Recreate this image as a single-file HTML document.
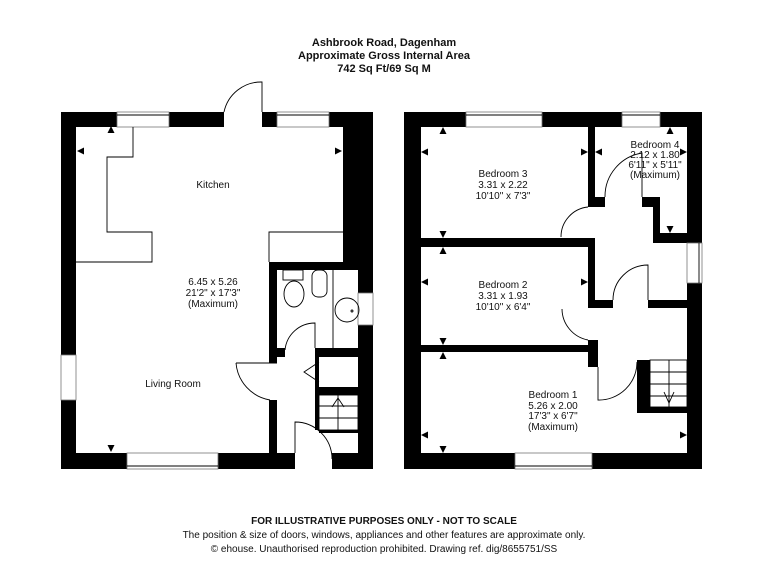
<!DOCTYPE html>
<html><head><style>
body{margin:0;background:#fff;}
svg{display:block;}
text{font-family:"Liberation Sans",sans-serif;fill:#111;}
</style></head><body>
<svg width="768" height="576" viewBox="0 0 768 576" xmlns="http://www.w3.org/2000/svg">
<g text-anchor="middle" font-weight="bold" font-size="11">
<text x="384" y="46">Ashbrook Road, Dagenham</text>
<text x="384" y="59">Approximate Gross Internal Area</text>
<text x="384" y="72">742 Sq Ft/69 Sq M</text>
</g>
<g text-anchor="middle" font-size="10">
<text x="384" y="524" font-weight="bold">FOR ILLUSTRATIVE PURPOSES ONLY - NOT TO SCALE</text>
<text x="384" y="538">The position &amp; size of doors, windows, appliances and other features are approximate only.</text>
<text x="384" y="552">© ehouse. Unauthorised reproduction prohibited. Drawing ref. dig/8655751/SS</text>
</g>

<!-- GROUND FLOOR -->
<g fill="#000">
<rect x="61" y="112" width="163" height="15"/>
<rect x="262" y="112" width="111" height="15"/>
<rect x="61" y="112" width="15" height="357"/>
<rect x="61" y="453" width="234" height="16"/>
<rect x="332" y="453" width="41" height="16"/>
<rect x="343" y="112" width="30" height="158"/>
<rect x="358" y="262" width="15" height="207"/>
<rect x="269" y="262" width="89" height="8"/>
<rect x="269" y="262" width="8" height="101"/>
<rect x="269" y="400" width="8" height="53"/>
<rect x="277" y="348" width="8" height="9"/>
<rect x="315" y="348" width="43" height="9"/>
<rect x="315" y="348" width="4" height="82"/>
<rect x="319" y="387" width="39" height="8"/>
<rect x="319" y="430" width="39" height="3"/>
</g>
<g fill="#fff" stroke="#777" stroke-width="0.8">
<rect x="117" y="112" width="52" height="15"/>
<rect x="277" y="112" width="52" height="15"/>
<rect x="127" y="453" width="91" height="16"/>
<rect x="61" y="355" width="15" height="45"/>
<rect x="358" y="293" width="15" height="32"/>
</g>
<g fill="none" stroke="#000" stroke-width="0.9">
<line x1="117" y1="115" x2="169" y2="115"/><line x1="277" y1="115" x2="329" y2="115"/>
<line x1="127" y1="466" x2="218" y2="466"/>
<polyline points="133,127 133,157 107,157 107,232 152,232 152,262 76,262"/>
<polyline points="343,232 269,232 269,262"/>
<path d="M262,112 L262,82 A38,38 0 0 0 224,112"/>
<path d="M236,363 L277,363 M236,363 A41,41 0 0 0 270,400"/>
<path d="M315,348 L315,323 A30,30 0 0 0 285,350"/>
<path d="M295,453 L295,422 A37,37 0 0 1 332,459"/>
<line x1="333" y1="270" x2="333" y2="348"/>
<rect x="283" y="270" width="20" height="10"/>
<ellipse cx="294" cy="294" rx="10" ry="13"/>
<rect x="312" y="270" width="15" height="27" rx="6"/>
<circle cx="347" cy="310" r="12"/>
<circle cx="352" cy="311" r="1"/>
<polyline points="319,362 304,372 319,382"/>
<rect x="319" y="395" width="39" height="35"/>
<line x1="319" y1="406" x2="358" y2="406"/><line x1="319" y1="418" x2="358" y2="418"/>
<line x1="338" y1="395" x2="338" y2="430"/>
<polyline points="332,407 338,398 344,407"/>
</g>

<!-- FIRST FLOOR -->
<g fill="#000">
<rect x="404" y="112" width="62" height="15"/>
<rect x="542" y="112" width="80" height="15"/>
<rect x="660" y="112" width="42" height="15"/>
<rect x="404" y="112" width="17" height="357"/>
<rect x="404" y="453" width="111" height="16"/>
<rect x="592" y="453" width="110" height="16"/>
<rect x="687" y="112" width="15" height="131"/>
<rect x="687" y="283" width="15" height="186"/>
<rect x="588" y="112" width="7" height="95"/>
<rect x="588" y="197" width="17" height="10"/>
<rect x="642" y="197" width="16" height="10"/>
<rect x="653" y="197" width="7" height="46"/>
<rect x="653" y="233" width="34" height="10"/>
<rect x="421" y="238" width="174" height="9"/>
<rect x="588" y="238" width="7" height="70"/>
<rect x="595" y="300" width="18" height="8"/>
<rect x="648" y="300" width="39" height="8"/>
<rect x="421" y="345" width="174" height="7"/>
<rect x="588" y="340" width="10" height="27"/>
<rect x="637" y="360" width="13" height="53"/>
<rect x="637" y="407" width="50" height="6"/>
</g>
<g fill="#fff" stroke="#777" stroke-width="0.8">
<rect x="466" y="112" width="76" height="15"/>
<rect x="622" y="112" width="38" height="15"/>
<rect x="515" y="453" width="77" height="16"/>
<rect x="687" y="243" width="15" height="40"/>
</g>
<g fill="none" stroke="#000" stroke-width="0.9">
<line x1="466" y1="115" x2="542" y2="115"/><line x1="622" y1="115" x2="660" y2="115"/>
<line x1="515" y1="466" x2="592" y2="466"/><line x1="699" y1="243" x2="699" y2="283"/>
<path d="M642,197 L642,153 A44,44 0 0 0 605,197"/>
<path d="M588,207 A30,30 0 0 0 561,237"/>
<path d="M648,300 L648,265 A35,35 0 0 0 613,300"/>
<path d="M588,340 A32,32 0 0 1 562,309"/>
<path d="M598,367 L598,400 A38,38 0 0 0 637,362"/>
<rect x="650" y="360" width="37" height="47"/>
<line x1="650" y1="372" x2="687" y2="372"/><line x1="650" y1="384" x2="687" y2="384"/><line x1="650" y1="396" x2="687" y2="396"/>
<line x1="669" y1="360" x2="669" y2="407"/>
<polyline points="664,392 669,403 674,392"/>
</g>

<!-- arrows -->
<g fill="#000">
<path d="M111,126 l-3.5,7 h7z"/><path d="M77,151 l7,-3.5 v7z"/><path d="M342,151 l-7,-3.5 v7z"/><path d="M111,452 l-3.5,-7 h7z"/>
<path d="M443,127 l-3.5,7 h7z"/><path d="M421,152 l7,-3.5 v7z"/><path d="M588,152 l-7,-3.5 v7z"/><path d="M443,238 l-3.5,-7 h7z"/>
<path d="M443,247 l-3.5,7 h7z"/><path d="M421,282 l7,-3.5 v7z"/><path d="M588,282 l-7,-3.5 v7z"/><path d="M443,345 l-3.5,-7 h7z"/>
<path d="M443,352 l-3.5,7 h7z"/><path d="M421,435 l7,-3.5 v7z"/><path d="M687,435 l-7,-3.5 v7z"/><path d="M443,453 l-3.5,-7 h7z"/>
<path d="M595,152 l7,-3.5 v7z"/><path d="M670,127 l-3.5,7 h7z"/><path d="M687,152 l-7,-3.5 v7z"/><path d="M670,233 l-3.5,-7 h7z"/>
</g>

<g text-anchor="middle" font-size="10">
<text x="213" y="188">Kitchen</text>
<text x="213" y="285">6.45 x 5.26</text>
<text x="213" y="296">21'2" x 17'3"</text>
<text x="213" y="307">(Maximum)</text>
<text x="173" y="387">Living Room</text>
<text x="503" y="177">Bedroom 3</text>
<text x="503" y="188">3.31 x 2.22</text>
<text x="503" y="199">10'10" x 7'3"</text>
<text x="655" y="148">Bedroom 4</text>
<text x="655" y="158">2.12 x 1.80</text>
<text x="655" y="168">6'11" x 5'11"</text>
<text x="655" y="178">(Maximum)</text>
<text x="503" y="288">Bedroom 2</text>
<text x="503" y="299">3.31 x 1.93</text>
<text x="503" y="310">10'10" x 6'4"</text>
<text x="553" y="398">Bedroom 1</text>
<text x="553" y="409">5.26 x 2.00</text>
<text x="553" y="419">17'3" x 6'7"</text>
<text x="553" y="430">(Maximum)</text>
</g>
</svg>
</body></html>
